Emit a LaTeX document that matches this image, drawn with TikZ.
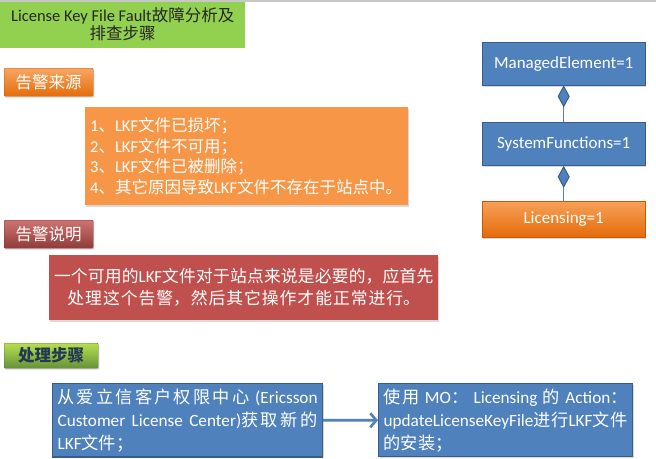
\documentclass[tikz,border=0pt]{standalone}
\usepackage{fontspec}
\setmainfont{Noto Sans CJK SC}
\newfontfamily\lat{Carlito}
\usetikzlibrary{positioning,arrows.meta,shadows}
\XeTeXlinebreaklocale "zh"
\XeTeXlinebreakskip=0pt plus 2pt
\newcommand{\en}[1]{{\lat #1}}
\definecolor{ofblue}{HTML}{4F81BD}
\definecolor{ofblueline}{HTML}{385D8A}
\definecolor{oforange}{HTML}{F79646}
\definecolor{ofdeeporange}{HTML}{E46C0A}
\definecolor{ofred}{HTML}{C0504D}
\definecolor{ofgreen}{HTML}{92D050}

\begin{document}
\begin{tikzpicture}[
  x=1pt,y=-1pt,
  font=\fontsize{16}{20}\selectfont,
  shade/.style   ={drop shadow={shadow xshift=1.2pt,shadow yshift=-1.5pt,opacity=.3}},
  title/.style   ={anchor=north west,fill=ofgreen,align=center,inner sep=0pt,
                   minimum width=245pt,minimum height=48pt,text=black!85,
                   font=\fontsize{16.5}{18}\selectfont},
  tag/.style     ={anchor=north west,rounded corners=1pt,inner sep=0pt,
                   minimum width=89pt,minimum height=28pt,text=white,
                   font=\fontsize{16.5}{18}\selectfont,shade},
  panel/.style   ={anchor=north west,inner sep=5pt,text=white,shade},
  stepbox/.style ={panel,draw=ofblueline,line width=1.2pt,fill=ofblue,align=justify,
                   minimum height=70pt,font=\fontsize{17.2}{23}\selectfont},
  cls/.style     ={draw=ofblueline,fill=ofblue,text=white,inner sep=0pt,
                   minimum width=163pt,minimum height=43pt,
                   font=\lat\fontsize{17}{20}\selectfont,shade},
  comp/.style    ={{Diamond[length=22pt,width=12pt,fill=ofblue,color=ofblueline]}-,
                   draw=ofblue,line width=1pt},
  flow/.style    ={-{Straight Barb[length=6pt,width=14pt]},line width=2.6pt,draw=ofblue}]

\useasboundingbox (0,0) rectangle (656,458);

% --- title ---
\node[title] (title) at (0,0) {\en{License Key File Fault}故障分析及\\排查步骤};
\fill[black!22] (0,0) rectangle (656,2);

% --- alarm source ---
\node[tag,draw=ofdeeporange!85!black,top color=oforange!85!white,bottom color=ofdeeporange]
  (srctag) at (4,68) {告警来源};
\node[panel,fill=oforange,text width=313pt,minimum height=98pt,align=left,
  font=\fontsize{16.5}{20.5}\selectfont] (srcbox) at (85,107)
  {\en{1}、\en{LKF}文件已损坏；\\
   \en{2}、\en{LKF}文件不可用；\\
   \en{3}、\en{LKF}文件已被删除；\\
   \en{4}、其它原因导致\en{LKF}文件不存在于站点中。};

% --- alarm description ---
\node[tag,draw=ofred!70!black,top color=ofred!80!white,bottom color=ofred!75!black]
  (desctag) at (4,220) {告警说明};
\node[panel,inner xsep=2pt,fill=ofred,text width=385pt,minimum height=65pt,align=center,
  font=\fontsize{16.8}{22}\selectfont] (descbox) at (49,255)
  {一个可用的\en{LKF}文件对于站点来说是必要的，应首先\\
   处理这个告警，然后其它操作才能正常进行。};

% --- procedure ---
\node[tag,minimum width=94pt,minimum height=25pt,draw=ofgreen!60!black,
  top color=ofgreen!75!yellow!90!white,bottom color=ofgreen!70!black,
  text=ofblueline!60!black,font=\bfseries\fontsize{16.5}{18}\selectfont]
  (proctag) at (4,343) {处理步骤};
\node[stepbox,text width=260pt] (stepa) at (52,383)
  {从爱立信客户权限中心 \en{(Ericsson}\linebreak
   \en{Customer License Center)}获取新的\linebreak
   \en{LKF}文件；};
\node[stepbox,text width=244pt] (stepb) at (378,383)
  {使用 \en{MO}： \en{Licensing} 的 \en{Action}：\linebreak
   \en{updateLicenseKeyFile}进行\en{LKF}文件\linebreak
   的安装；};
\draw[flow] (stepa) -- (stepb);

% --- MO tree ---
\node[cls,anchor=north west] (me) at (482,42) {ManagedElement=1};
\node[cls,below=37pt of me] (sf) {SystemFunctions=1};
\node[cls,below=35pt of sf,minimum height=36pt,draw=ofdeeporange!85!black,
  top color=oforange!90!white,bottom color=ofdeeporange] (lic) {Licensing=1};
\draw[comp] (me) -- (sf);
\draw[comp] (sf) -- (lic);

\end{tikzpicture}
\end{document}
